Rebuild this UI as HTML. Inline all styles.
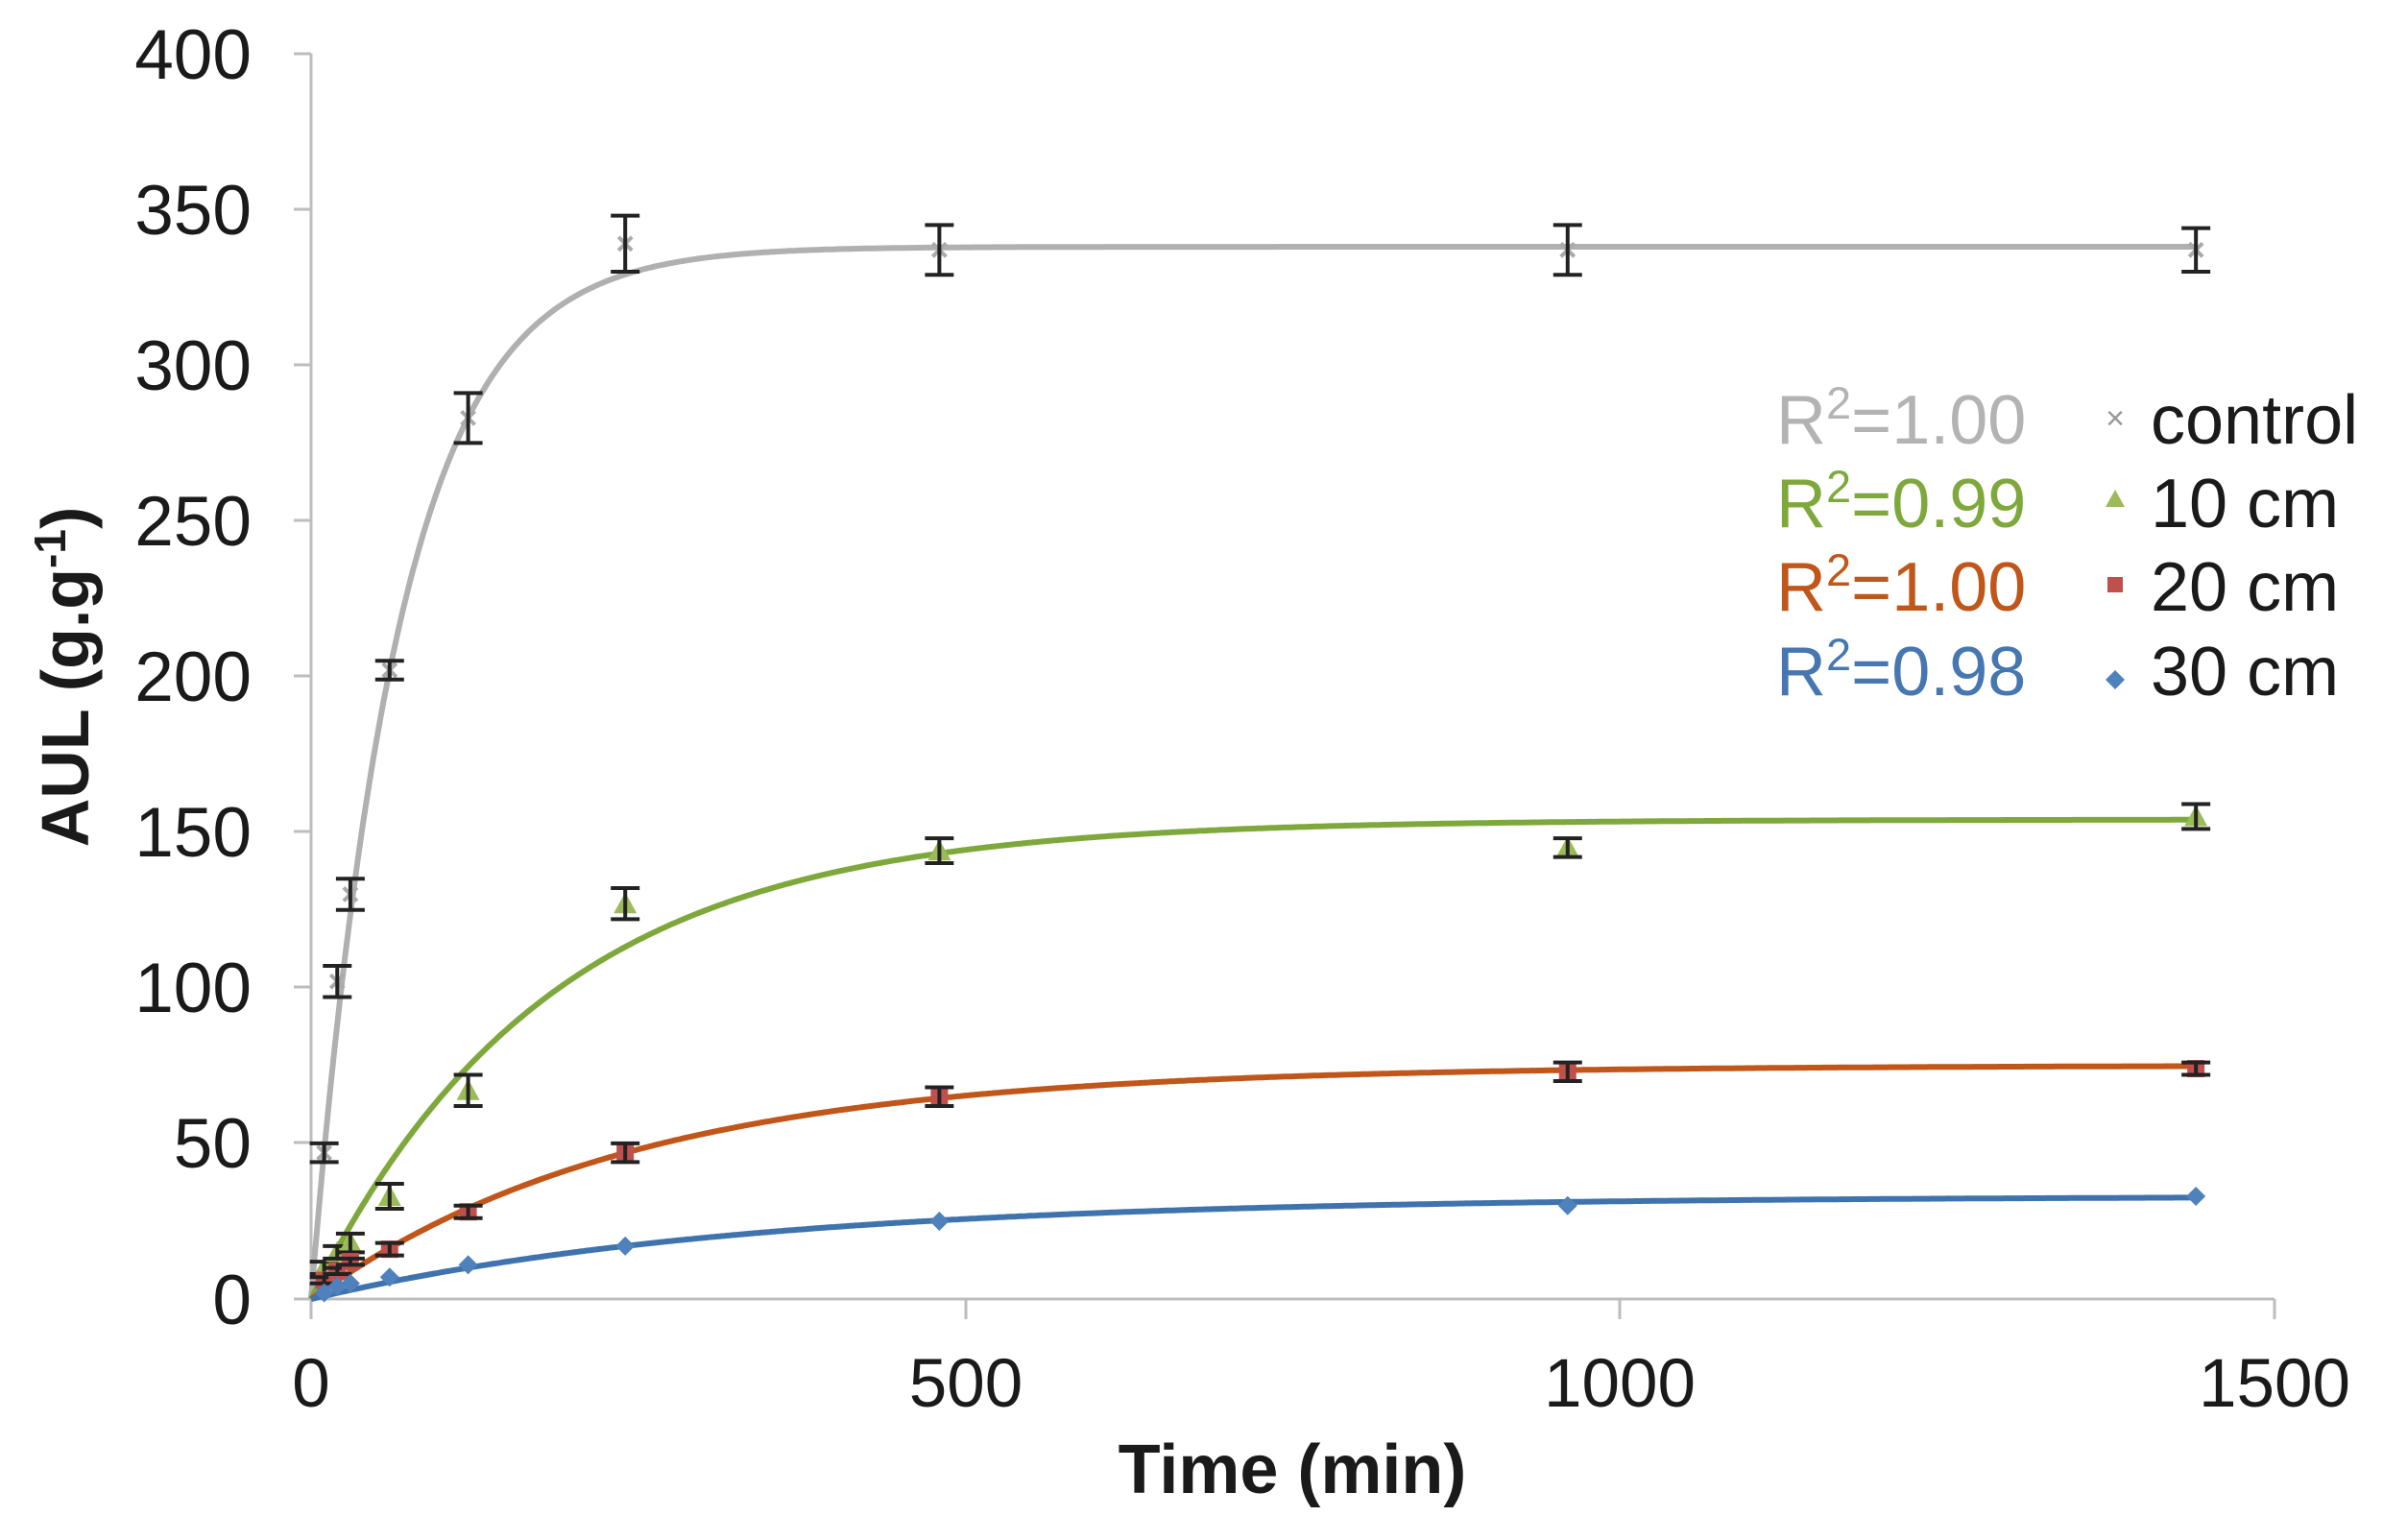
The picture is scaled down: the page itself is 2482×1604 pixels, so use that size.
<!DOCTYPE html>
<html><head><meta charset="utf-8"><style>
html,body{margin:0;padding:0;background:#fff;}
svg{display:block;font-family:"Liberation Sans",Arial,sans-serif;}
</style></head><body>
<svg id="s" width="2482" height="1604" viewBox="0 0 2482 1604" xmlns="http://www.w3.org/2000/svg">
<rect width="2482" height="1604" fill="#fff"/>
<g stroke="#bdbdbd" stroke-width="3" fill="none">
<line x1="324" y1="56" x2="324" y2="1353"/>
<line x1="324" y1="1353" x2="2369" y2="1353"/>
<line x1="306" y1="56" x2="324" y2="56"/><line x1="306" y1="218" x2="324" y2="218"/>
<line x1="306" y1="380" x2="324" y2="380"/><line x1="306" y1="542" x2="324" y2="542"/>
<line x1="306" y1="704" x2="324" y2="704"/><line x1="306" y1="866" x2="324" y2="866"/>
<line x1="306" y1="1028" x2="324" y2="1028"/><line x1="306" y1="1190" x2="324" y2="1190"/>
<line x1="306" y1="1353" x2="324" y2="1353"/>
<line x1="324" y1="1353" x2="324" y2="1374"/><line x1="1006" y1="1353" x2="1006" y2="1374"/>
<line x1="1687" y1="1353" x2="1687" y2="1374"/><line x1="2369" y1="1353" x2="2369" y2="1374"/>
</g>
<g font-size="73" fill="#1a1a1a" text-anchor="end">
<text x="262" y="82">400</text><text x="262" y="244">350</text><text x="262" y="406">300</text>
<text x="262" y="568">250</text><text x="262" y="730">200</text><text x="262" y="892">150</text>
<text x="262" y="1054">100</text><text x="262" y="1216">50</text><text x="262" y="1379">0</text>
</g>
<g font-size="71" fill="#1a1a1a" text-anchor="middle">
<text x="324" y="1465">0</text><text x="1006" y="1465">500</text>
<text x="1687" y="1465">1000</text><text x="2369" y="1465">1500</text>
</g>
<text x="1346" y="1555" font-size="72" font-weight="bold" text-anchor="middle" fill="#1a1a1a">Time (min)</text>
<text transform="translate(92,705) rotate(-90)" font-size="70" font-weight="bold" text-anchor="middle" fill="#1a1a1a">AUL (g.g<tspan dy="-24" font-size="46">-1</tspan><tspan dy="24">)</tspan></text>
<g id="plot"></g>
<g font-size="72">
<text x="1850" y="462" fill="#b3b3b3">R<tspan dy="-26" font-size="47">2</tspan><tspan dy="26">=1.00</tspan></text>
<text x="1850" y="549" fill="#7fa83c">R<tspan dy="-26" font-size="47">2</tspan><tspan dy="26">=0.99</tspan></text>
<text x="1850" y="636" fill="#c0561a">R<tspan dy="-26" font-size="47">2</tspan><tspan dy="26">=1.00</tspan></text>
<text x="1850" y="724" fill="#4677b0">R<tspan dy="-26" font-size="47">2</tspan><tspan dy="26">=0.98</tspan></text>
<text x="2240" y="462" fill="#1a1a1a">control</text>
<text x="2240" y="549" fill="#1a1a1a">10 cm</text>
<text x="2240" y="636" fill="#1a1a1a">20 cm</text>
<text x="2240" y="724" fill="#1a1a1a">30 cm</text>
</g>
<g>
<text x="2203" y="447" font-size="34" fill="#999" text-anchor="middle">×</text>
<polygon points="2203,510 2213,528 2193,528" fill="#9bbb59"/>
<rect x="2195" y="601" width="16" height="16" fill="#c0504d"/>
<polygon points="2203,698 2213,708 2203,718 2193,708" fill="#4f81bd"/>
</g>
</svg>
<script>
var X=function(t){return 324+t*1.3633},Y=function(v){return 1353-v*3.2425};
var ns="http://www.w3.org/2000/svg",g=document.getElementById("plot");
function el(n,a){var e=document.createElementNS(ns,n);for(var k in a)e.setAttribute(k,a[k]);g.appendChild(e);return e;}
var S=[
 {A:338,tau:66,c:"#b0b0b0",m:"x",mc:"#aaa",pts:[[10,47,3],[20,102,5],[30,130,5],[60,202,3],[120,283,8],[240,339,9],[480,337,8],[960,337,8],[1440,337,7]]},
 {A:154,tau:181,c:"#7fa83c",m:"t",mc:"#9bbb59",pts:[[10,10,2],[20,15,2],[30,18,3],[60,33,4],[120,67,5],[240,127,5],[480,144,4],[960,145,3],[1440,155,4]]},
 {A:75,tau:244,c:"#c0561a",m:"s",mc:"#c0504d",pts:[[10,6,1],[20,9,1],[30,12,1],[60,16,2],[120,28,2],[240,47,3],[480,65,3],[960,73,3],[1440,74,2]]},
 {A:33,tau:331,c:"#3f73ad",m:"d",mc:"#4f81bd",pts:[[10,2,0],[20,4,0],[30,5,0],[60,7,0],[120,11,0],[240,17,0],[480,25,0],[960,30,0],[1440,33,0]]}
];
S.forEach(function(s){
 var d="";for(var t=0;t<=1440;t+=2){var v=s.A*(1-Math.exp(-t/s.tau));d+=(t?"L":"M")+X(t).toFixed(1)+" "+Y(v).toFixed(1);}
 el("path",{d:d,fill:"none",stroke:s.c,"stroke-width":6});
});
S.forEach(function(s){
 s.pts.forEach(function(p){
  var x=X(p[0]),y=Y(p[1]);
  if(s.m=="x"){el("path",{d:"M"+(x-7)+" "+(y-7)+"L"+(x+7)+" "+(y+7)+"M"+(x+7)+" "+(y-7)+"L"+(x-7)+" "+(y+7),stroke:s.mc,"stroke-width":4});}
  if(s.m=="t")el("polygon",{points:x+","+(y-12)+" "+(x+12)+","+(y+10)+" "+(x-12)+","+(y+10),fill:s.mc});
  if(s.m=="s")el("rect",{x:x-9,y:y-9,width:18,height:18,fill:s.mc});
  if(s.m=="d")el("polygon",{points:x+","+(y-10)+" "+(x+10)+","+y+" "+x+","+(y+10)+" "+(x-10)+","+y,fill:s.mc});
  if(p[2]>0){var e=p[2]*3.2425;
   el("path",{d:"M"+x+" "+(y-e)+"L"+x+" "+(y+e)+"M"+(x-15)+" "+(y-e)+"L"+(x+15)+" "+(y-e)+"M"+(x-15)+" "+(y+e)+"L"+(x+15)+" "+(y+e),stroke:"#222","stroke-width":4,fill:"none"});}
 });
});
</script>
</body></html>
